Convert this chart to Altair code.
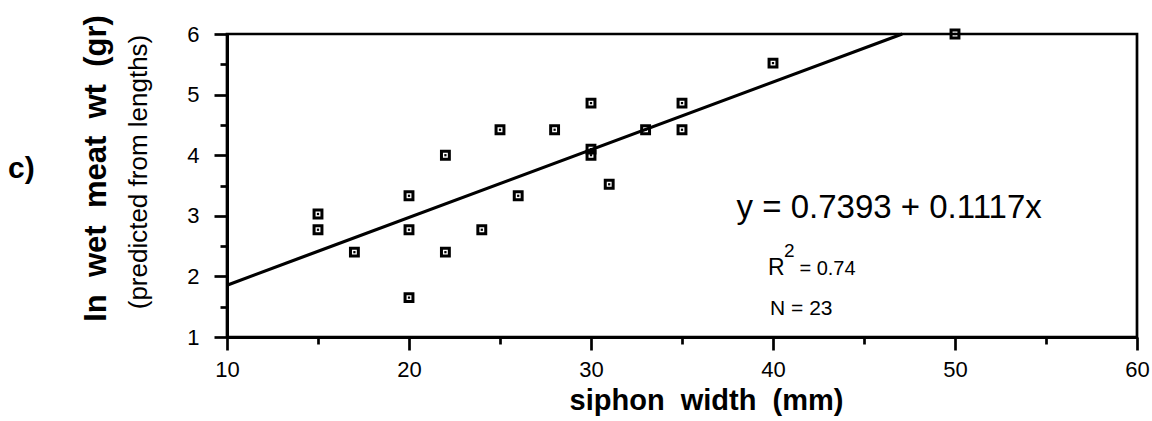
import altair as alt
import pandas as pd

# ---- data ----
siphon_width = [15, 15, 17, 20, 20, 20, 22, 22, 24, 25, 26, 28, 30, 30, 30, 31, 33, 35, 35, 40, 50]
ln_wet_meat = [3.03, 2.77, 2.40, 3.33, 2.77, 1.65, 4.00, 2.40, 2.77, 4.42, 3.33, 4.42, 4.86, 4.10, 4.00,
               3.52, 4.42, 4.86, 4.42, 5.52, 6.00]

fit_x = [10, 47.1]
fit_y = [1.856, 6.0]

x_major = [10, 20, 30, 40, 50, 60]
x_minor = [15, 25, 35, 45, 55]
y_major = [1, 2, 3, 4, 5, 6]
y_minor = [1.5, 2.5, 3.5, 4.5, 5.5]

pts = pd.DataFrame({"x": siphon_width, "y": ln_wet_meat})
fit = pd.DataFrame({"x": fit_x, "y": fit_y})

FONT = "Liberation Sans"
NB = "\u00a0"

xscale = alt.Scale(domain=[10, 60], nice=False, zero=False)
yscale = alt.Scale(domain=[1, 6], nice=False, zero=False)

xaxis = alt.Axis(
    values=x_major, orient="bottom",
    title="siphon" + NB + NB + "width" + NB + NB + "(mm)",
    titleFont=FONT, titleFontSize=29, titleFontWeight="bold", titleColor="black",
    titleX=479, titleY=72, titleBaseline="alphabetic", titleAlign="center",
    labelFont=FONT, labelFontSize=22, labelColor="black", labelPadding=9,
    tickSize=13, tickColor="black", tickWidth=2.7, domainColor="black", domainWidth=3,
    grid=False, labelFlush=False, format="d",
)
yaxis = alt.Axis(
    values=y_major, orient="left",
    title="In" + NB + " wet" + NB + " meat" + NB + " wt" + NB + " (gr)",
    titleFont=FONT, titleFontSize=31, titleFontWeight="bold", titleColor="black",
    titleX=-122, titleY=134, titleAngle=270, titleBaseline="alphabetic", titleAlign="center",
    labelFont=FONT, labelFontSize=22, labelColor="black", labelPadding=15,
    tickSize=13, tickColor="black", tickWidth=2.7, domainColor="black", domainWidth=3,
    grid=False, labelFlush=False, format="d",
)
xaxis_minor = alt.Axis(values=x_minor, orient="bottom", tickSize=7, tickColor="black", tickWidth=2.7,
                       labels=False, domain=False, grid=False, title=None)
yaxis_minor = alt.Axis(values=y_minor, orient="left", tickSize=7, tickColor="black", tickWidth=2.7,
                       labels=False, domain=False, grid=False, title=None)

base_pts = alt.Chart(pts)

squares = base_pts.mark_square(filled=False, stroke="black", strokeWidth=3, size=62, opacity=1).encode(
    x=alt.X("x:Q", scale=xscale, axis=xaxis),
    y=alt.Y("y:Q", scale=yscale, axis=yaxis),
)
dots = base_pts.mark_square(filled=True, color="black", size=5, opacity=1).encode(
    x=alt.X("x:Q", scale=xscale, axis=xaxis_minor),
    y=alt.Y("y:Q", scale=yscale, axis=yaxis_minor),
)
line = alt.Chart(fit).mark_line(color="black", strokeWidth=3.2).encode(
    x=alt.X("x:Q", scale=xscale, axis=None),
    y=alt.Y("y:Q", scale=yscale, axis=None),
)

def note(text, x, y, size, weight="normal"):
    return alt.Chart(pd.DataFrame({"t": [text]})).mark_text(
        font=FONT, fontSize=size, fontWeight=weight, color="black", align="left", baseline="alphabetic"
    ).encode(x=alt.datum(x, scale=xscale, axis=None), y=alt.datum(y, scale=yscale, axis=None), text="t:N")

eq = note("y = 0.7393 + 0.1117x", 38.0, 2.97, 33)
r_main = note("R", 39.73, 2.02, 23)
r_sup = note("2", 40.6, 2.32, 19)
r_val = note("= 0.74", 41.45, 2.02, 20)
n_txt = note("N = 23", 39.84, 1.36, 21)

subtitle = alt.Chart(pd.DataFrame({"t": ["(predicted from lengths)"]})).mark_text(
    font=FONT, fontSize=26, color="black", angle=270, align="center", baseline="alphabetic"
).encode(x=alt.value(-80), y=alt.value(138), text="t:N")

panel = alt.Chart(pd.DataFrame({"t": ["c)"]})).mark_text(
    font=FONT, fontSize=30, fontWeight="bold", color="black", align="left", baseline="alphabetic"
).encode(x=alt.value(-219), y=alt.value(144), text="t:N")

chart = alt.layer(line, squares, dots, eq, r_main, r_sup, r_val, n_txt, subtitle, panel).resolve_axis(
    x="independent", y="independent"
).properties(
    width=910, height=303,
    autosize=alt.AutoSizeParams(type="none"),
    padding={"left": 227, "top": 34, "right": 15, "bottom": 84},
    background="white",
).configure_view(stroke="black", strokeWidth=2.7)

chart.save("out.html", embed_options={"renderer": "svg", "actions": False})
